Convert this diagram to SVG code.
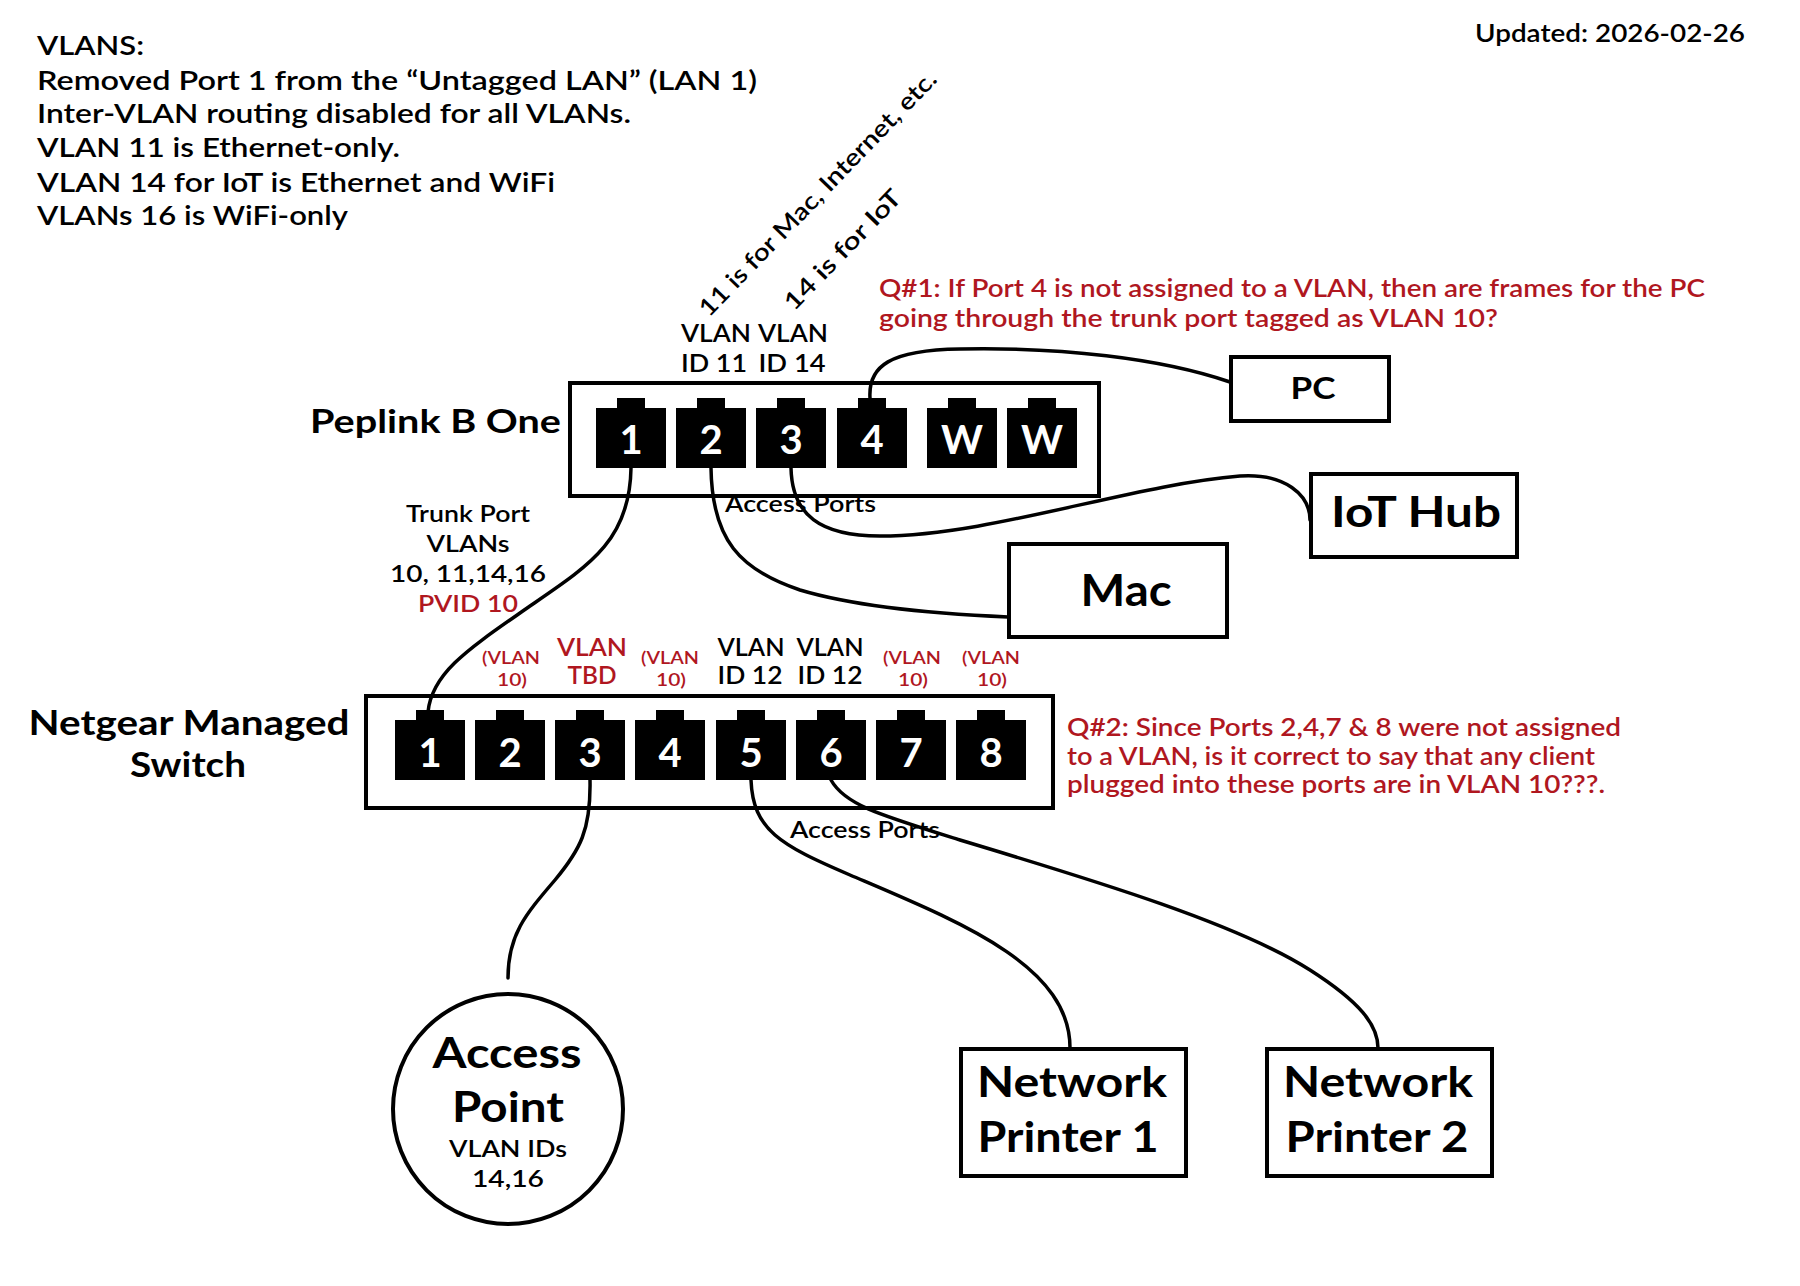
<svg xmlns="http://www.w3.org/2000/svg" width="1800" height="1286" viewBox="0 0 1800 1286">
<style>
text { font-family: Lato, "Noto Sans", "Liberation Sans", sans-serif; fill: #000; }
.t { font-size: 26px; font-weight: 600; }
.s { font-size: 22px; font-weight: 600; }
.m { font-size: 24px; font-weight: 600; }
.xs { font-size: 17px; font-weight: 600; }
.q { font-size: 24px; font-weight: 600; fill: #b0171f; }
.red { fill: #b0171f; }
.big { font-size: 42px; font-weight: 700; }
.hd { font-size: 34px; font-weight: 700; }
.c { text-anchor: middle; }
.box { fill: #fff; stroke: #000; stroke-width: 4; }
.port { fill: #000; }
.pn { font-size: 40px; font-weight: 700; fill: #fff; text-anchor: middle; }
.wire { fill: none; stroke: #000; stroke-width: 3.5; stroke-linecap: round; }
</style>
<defs>
<path id="port" class="port" d="M-35,10 h21 v-10 h28 v10 h21 v60 h-70 z"/>
</defs>
<rect x="0" y="0" width="1800" height="1286" fill="#fff"/>

<g id="notes">
<text class="m" x="1475" y="42" textLength="270" lengthAdjust="spacingAndGlyphs">Updated: 2026-02-26</text>
<text class="t" x="37" y="55" textLength="107" lengthAdjust="spacingAndGlyphs">VLANS:</text>
<text class="t" x="37" y="90" textLength="720" lengthAdjust="spacingAndGlyphs">Removed Port 1 from the “Untagged LAN” (LAN 1)</text>
<text class="t" x="37" y="123" textLength="594" lengthAdjust="spacingAndGlyphs">Inter-VLAN routing disabled for all VLANs.</text>
<text class="t" x="37" y="157" textLength="363" lengthAdjust="spacingAndGlyphs">VLAN 11 is Ethernet-only.</text>
<text class="t" x="37" y="192" textLength="518" lengthAdjust="spacingAndGlyphs">VLAN 14 for IoT is Ethernet and WiFi</text>
<text class="t" x="37" y="225" textLength="311" lengthAdjust="spacingAndGlyphs">VLANs 16 is WiFi-only</text>
<text class="m" transform="translate(709,318) rotate(-46)" x="0" y="0" textLength="330" lengthAdjust="spacingAndGlyphs">11 is for Mac, Internet, etc.</text>
<text class="m" transform="translate(794,312) rotate(-46)" x="0" y="0" textLength="157" lengthAdjust="spacingAndGlyphs">14 is for IoT</text>
<text class="q" x="879" y="297" textLength="826" lengthAdjust="spacingAndGlyphs">Q#1: If Port 4 is not assigned to a VLAN, then are frames for the PC</text>
<text class="q" x="879" y="327" textLength="619" lengthAdjust="spacingAndGlyphs">going through the trunk port tagged as VLAN 10?</text>
<text class="q" x="1067" y="736" textLength="554" lengthAdjust="spacingAndGlyphs">Q#2: Since Ports 2,4,7 &amp; 8 were not assigned</text>
<text class="q" x="1067" y="765" textLength="528" lengthAdjust="spacingAndGlyphs">to a VLAN, is it correct to say that any client</text>
<text class="q" x="1067" y="793" textLength="538" lengthAdjust="spacingAndGlyphs">plugged into these ports are in VLAN 10???.</text>
<text class="s c" x="468" y="522" textLength="124" lengthAdjust="spacingAndGlyphs">Trunk Port</text>
<text class="s c" x="468" y="552" textLength="83" lengthAdjust="spacingAndGlyphs">VLANs</text>
<text class="s c" x="468" y="582" textLength="156" lengthAdjust="spacingAndGlyphs">10, 11,14,16</text>
<text class="s c red" x="468" y="612" textLength="100" lengthAdjust="spacingAndGlyphs">PVID 10</text>
</g>

<g id="peplink">
<rect class="box" x="570" y="383" width="529" height="113"/>
<text class="hd" x="310" y="433" textLength="251" lengthAdjust="spacingAndGlyphs" style="font-size:33px">Peplink B One</text>
<use href="#port" x="631" y="398"/>
<use href="#port" x="711" y="398"/>
<use href="#port" x="791" y="398"/>
<use href="#port" x="872" y="398"/>
<use href="#port" x="962" y="398"/>
<use href="#port" x="1042" y="398"/>
<text class="pn" x="631" y="454">1</text>
<text class="pn" x="711" y="454">2</text>
<text class="pn" x="791" y="454">3</text>
<text class="pn" x="872" y="454">4</text>
<text class="pn" x="962" y="454">W</text>
<text class="pn" x="1042" y="454">W</text>
<text class="m c" x="716" y="342" textLength="70" lengthAdjust="spacingAndGlyphs">VLAN</text>
<text class="m c" x="793" y="342" textLength="70" lengthAdjust="spacingAndGlyphs">VLAN</text>
<text class="m c" x="714" y="372" textLength="66" lengthAdjust="spacingAndGlyphs">ID 11</text>
<text class="m c" x="792" y="372" textLength="67" lengthAdjust="spacingAndGlyphs">ID 14</text>
<text class="s" x="725" y="512" textLength="151" lengthAdjust="spacingAndGlyphs">Access Ports</text>
</g>

<g id="netgear">
<rect class="box" x="366" y="696" width="687" height="112"/>
<text class="hd c" x="189" y="735" textLength="321" lengthAdjust="spacingAndGlyphs">Netgear Managed</text>
<text class="hd c" x="188" y="777" textLength="116" lengthAdjust="spacingAndGlyphs">Switch</text>
<use href="#port" x="430" y="710"/>
<use href="#port" x="510" y="710"/>
<use href="#port" x="590" y="710"/>
<use href="#port" x="670" y="710"/>
<use href="#port" x="751" y="710"/>
<use href="#port" x="831" y="710"/>
<use href="#port" x="911" y="710"/>
<use href="#port" x="991" y="710"/>
<text class="pn" x="430" y="767">1</text>
<text class="pn" x="510" y="767">2</text>
<text class="pn" x="590" y="767">3</text>
<text class="pn" x="670" y="767">4</text>
<text class="pn" x="751" y="767">5</text>
<text class="pn" x="831" y="767">6</text>
<text class="pn" x="911" y="767">7</text>
<text class="pn" x="991" y="767">8</text>
<text class="xs c red" x="511" y="664" textLength="58" lengthAdjust="spacingAndGlyphs">(VLAN</text>
<text class="xs c red" x="512" y="686" textLength="30" lengthAdjust="spacingAndGlyphs">10)</text>
<text class="m c red" x="592" y="656" textLength="70" lengthAdjust="spacingAndGlyphs">VLAN</text>
<text class="m c red" x="592" y="684" textLength="49" lengthAdjust="spacingAndGlyphs">TBD</text>
<text class="xs c red" x="670" y="664" textLength="58" lengthAdjust="spacingAndGlyphs">(VLAN</text>
<text class="xs c red" x="671" y="686" textLength="30" lengthAdjust="spacingAndGlyphs">10)</text>
<text class="m c" x="751" y="656" textLength="67" lengthAdjust="spacingAndGlyphs">VLAN</text>
<text class="m c" x="750" y="684" textLength="65" lengthAdjust="spacingAndGlyphs">ID 12</text>
<text class="m c" x="830" y="656" textLength="67" lengthAdjust="spacingAndGlyphs">VLAN</text>
<text class="m c" x="830" y="684" textLength="65" lengthAdjust="spacingAndGlyphs">ID 12</text>
<text class="xs c red" x="912" y="664" textLength="58" lengthAdjust="spacingAndGlyphs">(VLAN</text>
<text class="xs c red" x="913" y="686" textLength="30" lengthAdjust="spacingAndGlyphs">10)</text>
<text class="xs c red" x="991" y="664" textLength="58" lengthAdjust="spacingAndGlyphs">(VLAN</text>
<text class="xs c red" x="992" y="686" textLength="30" lengthAdjust="spacingAndGlyphs">10)</text>
<text class="s" x="790" y="838" textLength="150" lengthAdjust="spacingAndGlyphs">Access Ports</text>
</g>

<g id="pc">
<rect class="box" x="1231" y="357" width="158" height="64"/>
<text class="c" x="1313" y="399" textLength="45" lengthAdjust="spacingAndGlyphs" style="font-size:31px;font-weight:700">PC</text>
</g>

<g id="iot-hub">
<rect class="box" x="1311" y="474" width="206" height="83"/>
<text class="big c" x="1416" y="527" textLength="170" lengthAdjust="spacingAndGlyphs">IoT Hub</text>
</g>

<g id="mac">
<rect class="box" x="1009" y="544" width="218" height="93"/>
<text class="big c" x="1126" y="606" textLength="91" lengthAdjust="spacingAndGlyphs" style="font-size:43px">Mac</text>
</g>

<g id="access-point">
<circle class="box" cx="508" cy="1109" r="115"/>
<text class="big c" x="507" y="1068" textLength="149" lengthAdjust="spacingAndGlyphs">Access</text>
<text class="big c" x="508" y="1122" textLength="112" lengthAdjust="spacingAndGlyphs">Point</text>
<text class="c" x="508" y="1157" textLength="118" lengthAdjust="spacingAndGlyphs" style="font-size:23px;font-weight:600">VLAN IDs</text>
<text class="c" x="508" y="1187" textLength="72" lengthAdjust="spacingAndGlyphs" style="font-size:23px;font-weight:600">14,16</text>
</g>

<g id="printer1">
<rect class="box" x="961" y="1049" width="225" height="127"/>
<text class="big c" x="1072" y="1097" textLength="190" lengthAdjust="spacingAndGlyphs">Network</text>
<text class="big c" x="1068" y="1152" textLength="181" lengthAdjust="spacingAndGlyphs">Printer 1</text>
</g>

<g id="printer2">
<rect class="box" x="1267" y="1049" width="225" height="127"/>
<text class="big c" x="1378" y="1097" textLength="190" lengthAdjust="spacingAndGlyphs">Network</text>
<text class="big c" x="1377" y="1152" textLength="183" lengthAdjust="spacingAndGlyphs">Printer 2</text>
</g>

<g id="connectors">
<path class="wire" d="M631,468 C630,540 590,565 530,606 C470,648 432,672 428,712"/>
<path class="wire" d="M711,468 C712,540 740,570 800,590 C860,608 940,614 1008,617"/>
<path class="wire" d="M791,468 C792,515 820,536 880,536 C990,536 1130,485 1240,476 C1285,473 1310,495 1310,520"/>
<path class="wire" d="M870,398 C868,366 890,350 960,349 C1060,347 1160,358 1230,382"/>
<path class="wire" d="M590,780 C591,830 580,850 555,880 C525,915 508,935 508,978"/>
<path class="wire" d="M751,780 C753,830 780,845 850,875 C960,922 1070,965 1070,1048"/>
<path class="wire" d="M831,780 C845,805 880,815 960,840 C1100,882 1240,925 1310,970 C1360,1002 1378,1025 1378,1048"/>
</g>
</svg>
